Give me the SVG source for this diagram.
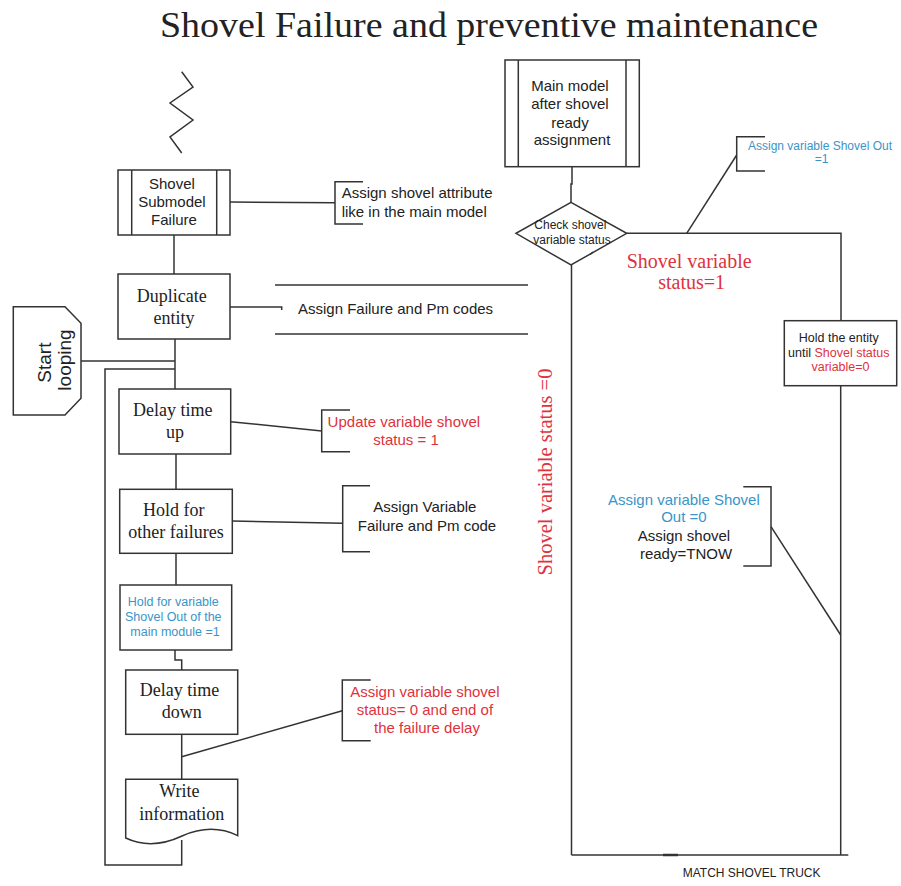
<svg xmlns="http://www.w3.org/2000/svg" width="901" height="886" viewBox="0 0 901 886">
  <style>
    .ln { fill: none; stroke: #333; stroke-width: 1.5; }
    .box { fill: #fff; stroke: #333; stroke-width: 1.5; }
    .sans { font-family: "Liberation Sans", Arial, sans-serif; }
    .serif { font-family: "Liberation Serif", "Times New Roman", serif; }
    .blk { fill: #222; }
    .red { fill: #e0323c; }
    .blue { fill: #3a95c8; }
  </style>
  <rect width="901" height="886" fill="#fff"/>

  <!-- title -->
  <text x="160" y="37" class="serif blk" font-size="36" textLength="658" lengthAdjust="spacingAndGlyphs">Shovel Failure and preventive maintenance</text>

  <!-- connectors -->
  <g id="connectors" class="ln">
    <!-- zigzag break mark -->
    <polyline points="181.7,71.7 193,87 170,103 193,120 170,137 181.7,153"/>
    <!-- left column flow -->
    <line x1="174" y1="235" x2="174" y2="274"/>
    <line x1="175" y1="339" x2="175" y2="389"/>
    <line x1="176" y1="454" x2="176" y2="489"/>
    <line x1="176" y1="553" x2="176" y2="585"/>
    <polyline points="175,650 175,660 181.7,660 181.7,670"/>
    <line x1="181.7" y1="734" x2="181.7" y2="779"/>
    <!-- loop back -->
    <line x1="81" y1="361" x2="175" y2="361"/>
    <polyline points="181.7,840 181.7,865 105,865 105,369 175,369"/>
    <!-- annotation leaders -->
    <line x1="230" y1="202" x2="335" y2="202.7"/>
    <polyline points="230,307 281.7,307 281.7,310"/>
    <line x1="230.7" y1="421.7" x2="321.7" y2="431"/>
    <line x1="232.3" y1="521" x2="342.7" y2="523.3"/>
    <line x1="181.7" y1="756.7" x2="342.3" y2="710.7"/>
    <!-- right loop -->
    <polyline points="572,166.7 572,184 571,184 571,202.3"/>
    <polyline points="626.7,233.3 841,233.3 841,320.7"/>
    <line x1="686.7" y1="233.3" x2="736.7" y2="155"/>
    <line x1="571.5" y1="265" x2="571.5" y2="855"/>
    <polyline points="571.5,855 848.3,855"/>
    <line x1="840.7" y1="385.7" x2="840.7" y2="855"/>
    <line x1="771" y1="526.7" x2="840.7" y2="635"/>
    <line x1="663" y1="855" x2="678" y2="855" stroke-width="2.5"/>
  </g>

  <!-- Shovel Submodel Failure (submodel block) -->
  <g id="submodel">
    <rect class="box" x="118" y="170" width="112" height="65"/>
    <line class="ln" x1="131.7" y1="170" x2="131.7" y2="235"/>
    <line class="ln" x1="216.7" y1="170" x2="216.7" y2="235"/>
    <text class="sans blk" font-size="15" text-anchor="middle">
      <tspan x="174" y="189">Shovel</tspan>
      <tspan x="174" y="207">Submodel</tspan>
      <tspan x="174" y="225">Failure</tspan>
    </text>
  </g>

  <g id="note-attribute">
    <polyline class="ln" points="363,181.7 335,181.7 335,224 363,224"/>
    <text class="sans blk" font-size="15">
      <tspan x="341.7" y="198">Assign shovel attribute</tspan>
      <tspan x="341.7" y="216.5">like in the main model</tspan>
    </text>
  </g>

  <!-- Duplicate entity -->
  <g id="duplicate">
    <rect class="box" x="118" y="274" width="112" height="65"/>
    <text class="serif blk" font-size="18" text-anchor="middle">
      <tspan x="174" y="302">Duplicate</tspan>
      <tspan x="174" y="324">entity</tspan>
    </text>
  </g>

  <g id="note-codes">
    <line class="ln" x1="275" y1="285" x2="528" y2="285"/>
    <line class="ln" x1="275" y1="334" x2="528" y2="334"/>
    <text x="298" y="314" class="sans blk" font-size="15">Assign Failure and Pm codes</text>
  </g>

  <!-- Start looping -->
  <g id="start-looping">
    <path class="box" d="M13.3,306.7 H65 L81,323.3 V398.3 L65,415 H13.3 Z"/>
    <text class="sans blk" font-size="19" text-anchor="middle" transform="translate(52,360) rotate(-90)">
      <tspan x="0" y="-1">Start</tspan>
      <tspan x="0" y="19">looping</tspan>
    </text>
  </g>

  <!-- Delay time up -->
  <g id="delay-up">
    <rect class="box" x="119" y="389" width="111.7" height="65"/>
    <text class="serif blk" font-size="18" text-anchor="middle">
      <tspan x="175" y="416">Delay time</tspan>
      <tspan x="175" y="438">up</tspan>
    </text>
  </g>

  <g id="note-update">
    <polyline class="ln" points="350,410 321.7,410 321.7,451.7 350,451.7"/>
    <text class="sans red" font-size="15" text-anchor="middle">
      <tspan x="406" y="427">Update variable shovel</tspan>
      <tspan x="406" y="444.5">status = 1</tspan>
    </text>
  </g>

  <!-- Hold for other failures -->
  <g id="hold-other">
    <rect class="box" x="119.7" y="489.3" width="112.6" height="64"/>
    <text class="serif blk" font-size="18" text-anchor="middle">
      <tspan x="176" y="516">Hold for</tspan>
      <tspan x="176" y="537.5">other failures</tspan>
    </text>
  </g>

  <g id="note-variable">
    <polyline class="ln" points="370,485.7 342.7,485.7 342.7,551.7 370,551.7"/>
    <text class="sans blk" font-size="15" text-anchor="middle">
      <tspan x="427" y="512">Assign Variable</tspan>
      <tspan x="427" y="530.5">Failure and Pm code</tspan>
    </text>
  </g>

  <!-- Hold for variable Shovel Out -->
  <g id="hold-shovel-out">
    <rect class="box" x="120" y="585" width="111.7" height="65"/>
    <text class="sans blue" font-size="12.5" text-anchor="middle">
      <tspan x="175" y="606">Hold for variable</tspan>
      <tspan x="175" y="621">Shovel Out of the</tspan>
      <tspan x="175" y="635.5">main module  =1</tspan>
    </text>
  </g>

  <!-- Delay time down -->
  <g id="delay-down">
    <rect class="box" x="125.7" y="670" width="112" height="64.3"/>
    <text class="serif blk" font-size="18" text-anchor="middle">
      <tspan x="181.7" y="696">Delay time</tspan>
      <tspan x="181.7" y="718">down</tspan>
    </text>
  </g>

  <g id="note-status0">
    <polyline class="ln" points="370.7,680 342.3,680 342.3,740.7 370.7,740.7"/>
    <text class="sans red" font-size="15" text-anchor="middle">
      <tspan x="427" y="697">Assign variable shovel</tspan>
      <tspan x="427" y="714.5">status= 0 and end of</tspan>
      <tspan x="427" y="732.5">the failure delay</tspan>
    </text>
  </g>

  <!-- Write information (document) -->
  <g id="write-info">
    <path class="box" d="M125.7,779.3 H237.7 V835.7 C218,826 200,828 182,836 C165,844 145,847 125.7,838 Z"/>
    <text class="serif blk" font-size="18" text-anchor="middle">
      <tspan x="181.7" y="797">Write</tspan>
      <tspan x="181.7" y="820">information</tspan>
    </text>
  </g>

  <!-- Main model after shovel ready assignment -->
  <g id="main-model">
    <rect class="box" x="505" y="60" width="134.3" height="106.7"/>
    <line class="ln" x1="518.3" y1="60" x2="518.3" y2="166.7"/>
    <line class="ln" x1="626" y1="60" x2="626" y2="166.7"/>
    <text class="sans blk" font-size="15" text-anchor="middle">
      <tspan x="572" y="91">Main model</tspan>
      <tspan x="572" y="109">after shovel</tspan>
      <tspan x="572" y="127.5">ready</tspan>
      <tspan x="572" y="145">assignment</tspan>
    </text>
  </g>

  <!-- Check shovel variable status (decision) -->
  <g id="check-status">
    <polygon class="box" points="571,202.3 626.7,233.3 571,265 516,233.3"/>
    <line class="ln" x1="590" y1="254.5" x2="593" y2="252" stroke-width="1"/>
    <text class="sans blk" font-size="12" text-anchor="middle">
      <tspan x="572" y="229">Check shovel</tspan>
      <tspan x="572" y="244">variable status</tspan>
    </text>
  </g>

  <g id="label-status1">
    <text class="serif red" font-size="20" text-anchor="middle">
      <tspan x="691.7" y="268">Shovel variable</tspan>
      <tspan x="691.7" y="289">status=1</tspan>
    </text>
  </g>

  <g id="note-out1">
    <polyline class="ln" points="765,136.7 736.7,136.7 736.7,171 765,171"/>
    <text class="sans blue" font-size="12" text-anchor="middle">
      <tspan x="821.7" y="150">Assign variable Shovel Out</tspan>
      <tspan x="821.7" y="162.5">=1</tspan>
    </text>
  </g>

  <!-- Hold the entity -->
  <g id="hold-entity">
    <rect class="box" x="784.3" y="320.7" width="112.4" height="65"/>
    <text class="sans" font-size="12.5" text-anchor="middle">
      <tspan x="840.5" y="342" class="blk">Hold the entity</tspan>
      <tspan x="840.5" y="357"><tspan class="blk">until </tspan><tspan class="red">Shovel status</tspan></tspan>
      <tspan x="840.5" y="371" class="red">variable=0</tspan>
    </text>
  </g>

  <g id="note-out0">
    <polyline class="ln" points="743.3,486.7 771,486.7 771,566 743.3,566"/>
    <text class="sans" font-size="15" text-anchor="middle">
      <tspan x="686" y="504.5" class="blue">Assign variable Shovel</tspan>
      <tspan x="686" y="522" class="blue">Out =0</tspan>
      <tspan x="686" y="541" class="blk">Assign shovel</tspan>
      <tspan x="686" y="558.5" class="blk">ready=TNOW</tspan>
    </text>
  </g>

  <g id="label-status0">
    <text class="serif red" font-size="20.5" text-anchor="middle" transform="translate(552,472) rotate(-90)" x="0" y="0">Shovel variable status =0</text>
  </g>

  <g id="label-match">
    <text x="682.7" y="877" class="sans blk" font-size="12">MATCH SHOVEL TRUCK</text>
  </g>
</svg>
